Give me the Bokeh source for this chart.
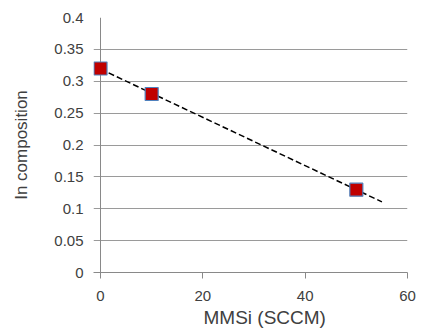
import numpy as np
from bokeh.plotting import figure
from bokeh.models import FixedTicker, Range1d, Span, Title
from bokeh.embed import file_html
from bokeh.resources import INLINE

# MMSi flow (SCCM) vs. indium composition
mmsi = [0, 10, 50]
in_comp = [0.32, 0.28, 0.13]

x_ticks = [0, 20, 40, 60]
x_tick_labels = ["0", "20", "40", "60"]
y_ticks = [0, 0.05, 0.1, 0.15, 0.2, 0.25, 0.3, 0.35, 0.4]
y_tick_labels = ["0", "0.05", "0.1", "0.15", "0.2", "0.25", "0.3", "0.35", "0.4"]

# linear trend, extended 5 SCCM past the last measurement
trend_x_end = 55
slope, intercept = np.polyfit(mmsi, in_comp, 1)
trend_x = [0, trend_x_end]
trend_y = [intercept + slope * v for v in trend_x]

# the frame starts a little left of x=0 so the gridlines poke out as tick marks
p = figure(width=422, height=333, output_backend="svg", toolbar_location=None,
           x_range=Range1d(-1.37, 60), y_range=Range1d(0, 0.4),
           min_border_left=93, min_border_right=15,
           min_border_top=17, min_border_bottom=61)
p.outline_line_color = None
p.background_fill_color = "white"
p.border_fill_color = "white"

grey = "#898989"
label_color = "#404040"

p.xgrid.grid_line_color = None
p.ygrid.grid_line_color = "#9a9a9a"
p.ygrid.grid_line_width = 1
p.ygrid.ticker = FixedTicker(ticks=y_ticks)

p.xaxis.ticker = FixedTicker(ticks=x_ticks)
p.xaxis.major_label_overrides = dict(zip(x_ticks, x_tick_labels))
p.yaxis.ticker = FixedTicker(ticks=y_ticks)
p.yaxis.major_label_overrides = dict(zip(y_ticks, y_tick_labels))

for ax in (p.xaxis, p.yaxis):
    ax.axis_line_color = grey
    ax.major_tick_line_color = grey
    ax.minor_tick_line_color = None
    ax.major_tick_in = 0
    ax.major_tick_out = 6
    ax.major_label_text_font = "Liberation Sans"
    ax.major_label_text_font_size = "15px"
    ax.major_label_text_color = label_color

p.yaxis.axis_line_color = None
p.yaxis.major_tick_out = 0
p.xaxis.major_label_standoff = 12
p.yaxis.major_label_standoff = 10

# vertical axis line at x = 0, drawn beneath the markers
p.add_layout(Span(location=0, dimension="height", line_color=grey, line_width=1,
                  level="underlay"))

p.yaxis.axis_label = "In composition"
p.yaxis.axis_label_text_font = "Liberation Sans"
p.yaxis.axis_label_text_font_size = "17px"
p.yaxis.axis_label_text_font_style = "normal"
p.yaxis.axis_label_text_color = label_color
p.yaxis.axis_label_standoff = 20

p.add_layout(Title(text="MMSi (SCCM)", align="left", offset=110,
                   text_font="Liberation Sans", text_font_size="19px",
                   text_font_style="normal", text_color=label_color,
                   standoff=3), "below")

p.line(trend_x, trend_y, line_color="black", line_width=1.5, line_dash="6 3")
p.scatter(mmsi, in_comp, marker="square", size=13, fill_color="#C00000",
          line_color="#4F81BD", line_width=1.2)

open("out.html", "w").write(file_html(p, INLINE))
